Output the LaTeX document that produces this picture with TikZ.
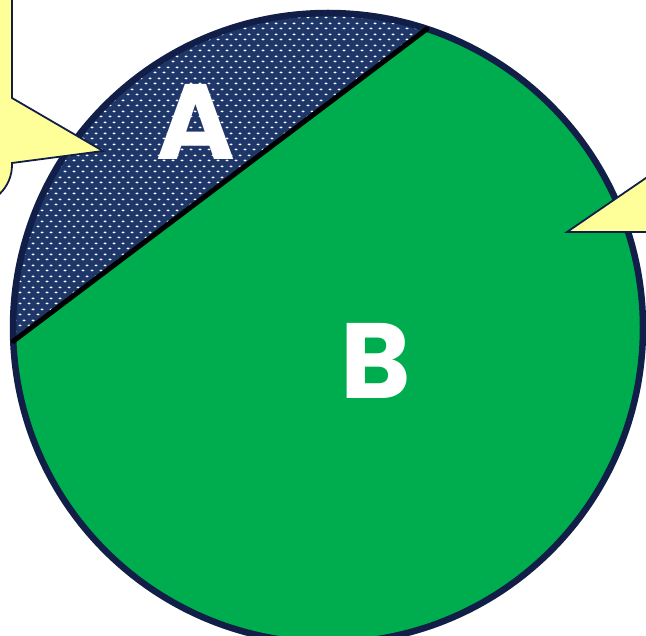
\documentclass[tikz,border=0pt]{standalone}
\usepackage{fontspec}
\setsansfont{Poppins}
\usetikzlibrary{patterns.meta}
\definecolor{ringcol}{RGB}{16,30,72}
\definecolor{sliceA}{RGB}{30,54,104}
\definecolor{sliceB}{RGB}{0,173,78}
\definecolor{calloutcol}{RGB}{255,255,153}

% white dot screen for slice A
\tikzdeclarepattern{
	name=dotscreen,
	type=uncolored,
	bounding box={(0pt,0pt) and (9pt,11pt)},
	tile size={(9pt,11pt)},
	code={
			\fill (2.25pt,2.75pt) ellipse [x radius=1.8pt, y radius=1.1pt];
			\fill (6.75pt,8.25pt) ellipse [x radius=1.8pt, y radius=1.1pt];
		}
}

\begin{document}
\begin{tikzpicture}[x=1pt, y=1pt,
		letter/.style={text=white, inner sep=0pt, font=\sffamily\bfseries\fontsize{107}{107}\selectfont},
		callout/.style={fill=calloutcol, draw=ringcol, line width=1.8pt, line join=miter}]

	% --- Parameters ---
	\def\rad{315}       % disc radius
	\def\angL{182.4}    % chord, left end
	\def\angR{71.7}     % chord, right end

	\useasboundingbox (0,0) rectangle (646,-636);
	\clip (0,0) rectangle (646,-636);

	\coordinate (ctr) at (328,-328);
	\pgfmathsetmacro{\xL}{328 + \rad*cos(\angL)}
	\pgfmathsetmacro{\yL}{-328 + \rad*sin(\angL)}
	\pgfmathsetmacro{\xR}{328 + \rad*cos(\angR)}
	\pgfmathsetmacro{\yR}{-328 + \rad*sin(\angR)}
	\coordinate (chordL) at (\xL,\yL);
	\coordinate (chordR) at (\xR,\yR);

	% =============================================
	%  DISC AND SLICES
	% =============================================

	\fill[sliceB] (ctr) circle (\rad);

	% Slice A (above the chord)
	\fill[sliceA] (chordR) arc[start angle=\angR, end angle=\angL, radius=\rad] -- cycle;
	\fill[pattern=dotscreen, pattern color=white]
	(chordR) arc[start angle=\angR, end angle=\angL, radius=\rad] -- cycle;

	% Outline and chord
	\draw[ringcol, line width=6.5pt] (ctr) circle (\rad);
	\draw[black, line width=5pt, line cap=round] (chordL) -- (chordR);

	\node[letter] (labA) at (196,-122) {A};
	\node[letter] (labB) at (376,-361) {B};

	% =============================================
	%  CALLOUTS (cut by the frame)
	% =============================================

	\draw[callout] (-60,10) -- (12,10) -- (12,-98) -- (103,-151) -- (12,-163)
	-- (12,-165) arc[start angle=0, end angle=-90, radius=40] -- (-60,-205) -- cycle;

	\draw[callout] (567,-232) -- (700,-141) -- (700,-232) -- cycle;

\end{tikzpicture}
\end{document}
